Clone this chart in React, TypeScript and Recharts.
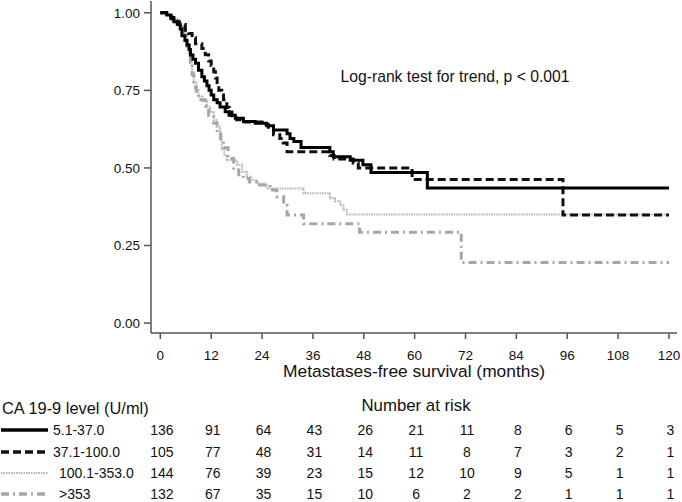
import React from "react";
import { LineChart, Line, XAxis, YAxis } from "recharts";

const FONT = '"Liberation Sans", Arial, Helvetica, sans-serif';

const monthTicks = [0, 12, 24, 36, 48, 60, 72, 84, 96, 108, 120];
const survTicks = [0, 0.25, 0.5, 0.75, 1];

const groupLabels = ["5.1-37.0", "37.1-100.0", "100.1-353.0", ">353"];

// Kaplan-Meier step points
const lowT = [0, 1.5, 2.5, 3.2, 4, 4.7, 5.1, 5.8, 6.3, 6.8, 7.1, 7.7, 8.3, 9, 9.8, 10.4, 11, 11.5, 12, 12.6, 13.4, 14.1, 15.3, 16.2, 17.7, 19.6, 22.4, 25.1, 26.7, 29.9, 30.6, 31.5, 33.2, 40, 40.8, 44.8, 47.8, 49.7, 63, 120];
const lowS = [1, 0.993, 0.985, 0.971, 0.963, 0.948, 0.926, 0.911, 0.896, 0.882, 0.864, 0.85, 0.837, 0.815, 0.794, 0.78, 0.765, 0.75, 0.735, 0.72, 0.71, 0.696, 0.681, 0.67, 0.66, 0.65, 0.644, 0.636, 0.622, 0.61, 0.595, 0.585, 0.566, 0.552, 0.536, 0.525, 0.51, 0.485, 0.435, 0.435];

const midT = [0, 1.5, 2.5, 3.5, 4.5, 5.9, 6.7, 7.5, 8.3, 9.8, 10.6, 11.4, 12, 12.6, 13, 13.4, 13.8, 14.5, 14.9, 15.7, 16.3, 16.9, 18, 20, 24, 25.5, 26.7, 28.2, 29, 29.9, 40, 41, 45.5, 46.7, 59.4, 95, 120];
const midS = [1, 0.99, 0.981, 0.971, 0.962, 0.944, 0.933, 0.92, 0.9, 0.885, 0.865, 0.845, 0.83, 0.81, 0.79, 0.775, 0.75, 0.735, 0.72, 0.695, 0.68, 0.668, 0.655, 0.648, 0.64, 0.625, 0.607, 0.595, 0.58, 0.552, 0.54, 0.529, 0.516, 0.5, 0.463, 0.348, 0.348];

const highT = [0, 1.5, 3, 4.3, 5.2, 5.9, 6.3, 6.7, 7.1, 7.5, 7.9, 8.5, 9, 10, 11, 11.8, 12.6, 13.3, 14.1, 14.5, 15.1, 15.7, 18.1, 19.3, 20.4, 21.5, 22.8, 25.1, 33.8, 40, 41.2, 42.4, 43.2, 44, 120];
const highS = [1, 0.993, 0.98, 0.96, 0.945, 0.928, 0.885, 0.87, 0.853, 0.81, 0.775, 0.75, 0.73, 0.715, 0.697, 0.68, 0.654, 0.632, 0.611, 0.56, 0.54, 0.525, 0.51, 0.488, 0.472, 0.46, 0.45, 0.434, 0.418, 0.402, 0.393, 0.38, 0.365, 0.35, 0.35];

const topT = [0, 1.5, 3, 4.3, 5.5, 6.3, 7.1, 7.5, 7.9, 8.5, 9, 10.6, 11.4, 12.6, 13.4, 14.2, 14.9, 16, 17.3, 18.5, 19.6, 21, 22.8, 25.9, 27.5, 29.1, 29.9, 33.8, 47, 71, 120];
const topS = [1, 0.99, 0.975, 0.955, 0.93, 0.88, 0.84, 0.8, 0.76, 0.74, 0.72, 0.7, 0.67, 0.645, 0.61, 0.585, 0.565, 0.53, 0.493, 0.478, 0.466, 0.455, 0.445, 0.429, 0.407, 0.38, 0.348, 0.32, 0.293, 0.195, 0.195];

// number at risk, one column per month tick
const riskLow = [136, 91, 64, 43, 26, 21, 11, 8, 6, 5, 3];
const riskMid = [105, 77, 48, 31, 14, 11, 8, 7, 3, 2, 1];
const riskHigh = [144, 76, 39, 23, 15, 12, 10, 9, 5, 1, 1];
const riskTop = [132, 67, 35, 15, 10, 6, 2, 2, 1, 1, 1];

const toPts = (ts: number[], ss: number[]) => ts.map((t, i) => ({ t, s: ss[i] }));

const styles = [
  { stroke: "#000", width: 3, dash: undefined as string | undefined },
  { stroke: "#111", width: 3, dash: "8 4" },
  { stroke: "#b4b4b4", width: 2, dash: "1.5 1" },
  { stroke: "#a6a6a6", width: 3, dash: "8 4 2 4" },
];

const series = [
  { data: toPts(lowT, lowS), risk: riskLow, labelX: 53 },
  { data: toPts(midT, midS), risk: riskMid, labelX: 53 },
  { data: toPts(highT, highS), risk: riskHigh, labelX: 59 },
  { data: toPts(topT, topS), risk: riskTop, labelX: 59 },
];

const AXIS = "#555";
const ROW_Y = [430, 451.5, 473, 494];

// month label plus the number-at-risk column under each tick
function MonthTick({ x, payload }: any) {
  const c = monthTicks.indexOf(payload.value);
  return (
    <g fontFamily={FONT} fill="#111" textAnchor="middle">
      <text x={x} y={355} fontSize={13.5} dominantBaseline="central">{payload.value}</text>
      {series.map((sr, r) => (
        <text key={r} x={x + 1.5} y={ROW_Y[r]} fontSize={14} dominantBaseline="central">
          {sr.risk[c]}
        </text>
      ))}
    </g>
  );
}

function Txt({ x, y, children, size = 15, anchor = "left" }: any) {
  const tx = anchor === "center" ? "-50%" : "0";
  return (
    <div style={{
      position: "absolute", left: x, top: y, transform: `translate(${tx}, -50%)`,
      fontFamily: FONT, fontSize: size, lineHeight: 1, color: "#111", whiteSpace: "nowrap",
    }}>{children}</div>
  );
}

export default function App() {
  return (
    <div style={{ position: "absolute", left: 0, top: 0, width: 682, height: 502, background: "#fff" }}>
      <LineChart width={682} height={502} margin={{ top: 1, right: 5, left: 101, bottom: 139 }}>
        <XAxis
          dataKey="t"
          type="number"
          domain={[-2.2, 121.9]}
          ticks={monthTicks}
          allowDataOverflow
          height={30}
          stroke={AXIS}
          strokeWidth={1.5}
          tickSize={6}
          tick={MonthTick}
        />
        <YAxis
          type="number"
          domain={[-0.032, 1.038]}
          ticks={survTicks}
          allowDataOverflow
          width={50}
          stroke={AXIS}
          strokeWidth={1.5}
          tickSize={7}
          tickMargin={4}
          tickFormatter={(v: number) => v.toFixed(2)}
          tick={{ fill: "#111", fontSize: 13.5, fontFamily: FONT }}
        />
        {[2, 3, 1, 0].map((i) => (
          <Line
            key={i}
            data={series[i].data}
            dataKey="s"
            type="stepAfter"
            stroke={styles[i].stroke}
            strokeWidth={styles[i].width}
            strokeDasharray={styles[i].dash}
            dot={false}
            activeDot={false}
            isAnimationActive={false}
          />
        ))}
      </LineChart>

      <Txt x={455} y={77} size={15.7} anchor="center">Log-rank test for trend, p &lt; 0.001</Txt>
      <Txt x={414} y={372} size={17.4} anchor="center">Metastases-free survival (months)</Txt>
      <Txt x={2} y={408} size={16.4}>CA 19-9 level (U/ml)</Txt>
      <Txt x={416} y={406} size={16.8} anchor="center">Number at risk</Txt>

      {series.map((sr, r) => (
        <React.Fragment key={r}>
          <svg style={{ position: "absolute", left: 0, top: ROW_Y[r] - 4 }} width={50} height={8}>
            <line x1={1} y1={4} x2={48} y2={4} stroke={styles[r].stroke}
              strokeWidth={r === 2 ? 2 : 3.5} strokeDasharray={styles[r].dash} />
          </svg>
          <Txt x={sr.labelX} y={ROW_Y[r]} size={14}>{groupLabels[r]}</Txt>
        </React.Fragment>
      ))}
    </div>
  );
}
